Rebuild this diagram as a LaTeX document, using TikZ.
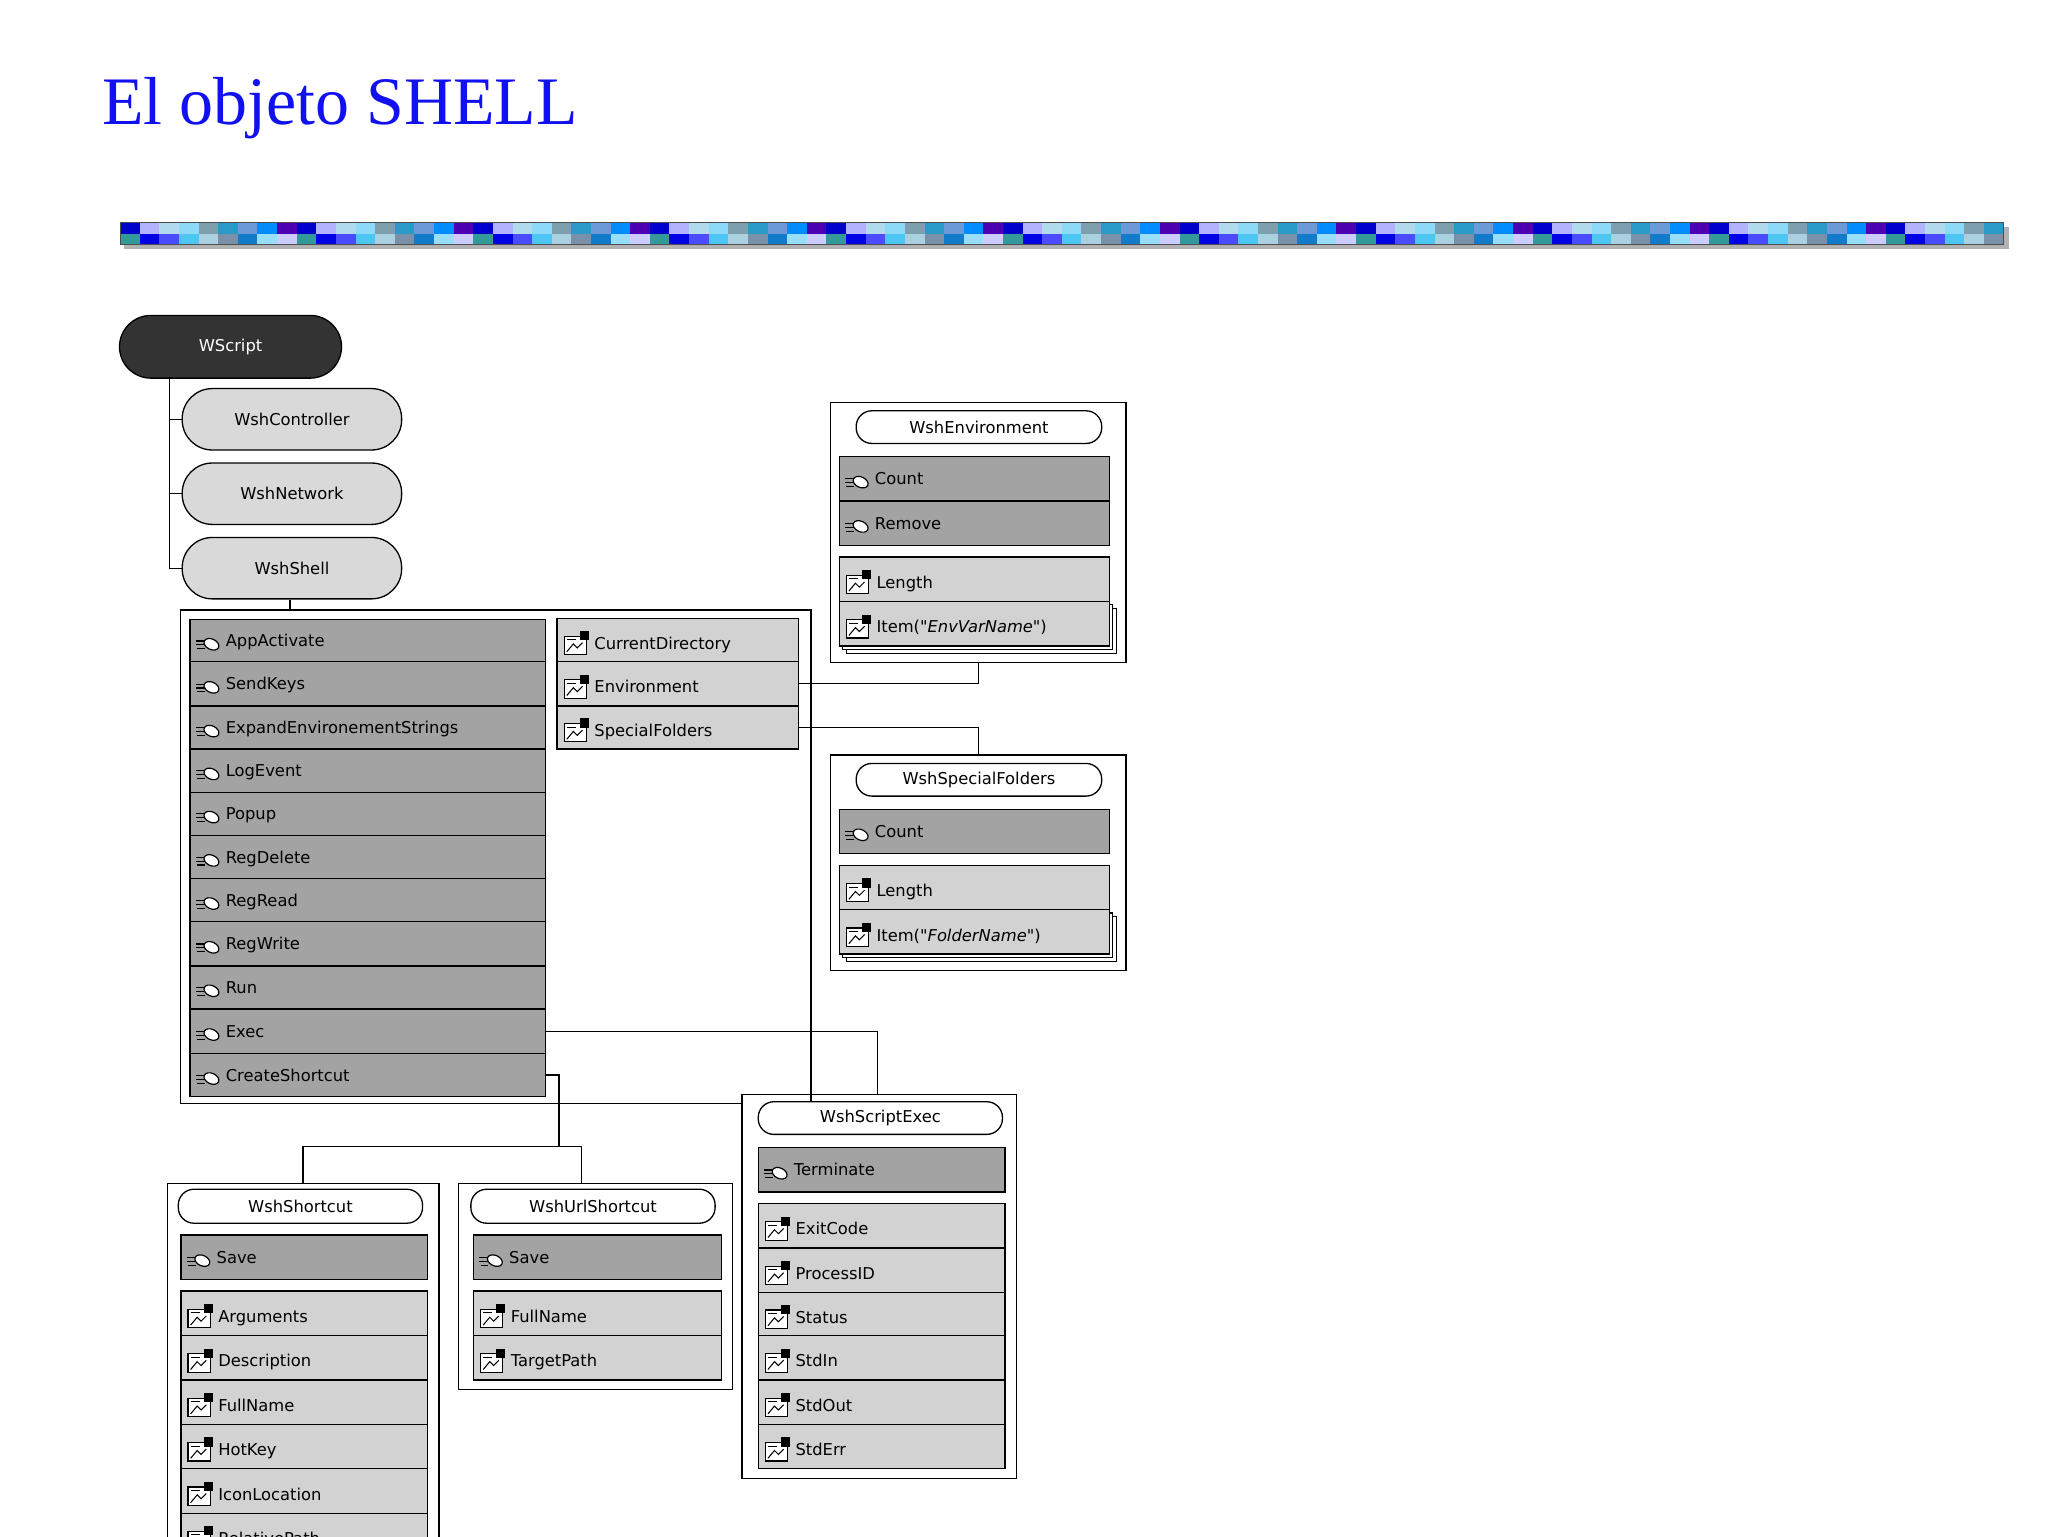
\documentclass[tikz,border=0pt]{standalone}
\usepackage{fontspec}
\setmainfont{Liberation Serif}
\newfontfamily\uisf{DejaVu Sans}
\begin{document}
\begin{tikzpicture}[x=1pt,y=-1pt,
  every node/.style={font=\uisf\fontsize{12.5}{14}\selectfont},
  rowbase/.style={draw=black,line width=1pt,anchor=north west,inner sep=0pt,text depth=0pt,align=left},
  methrow/.style={rowbase,fill=methgray},
  proprow/.style={rowbase,fill=propgray},
  pill/.style={draw=black,line width=1pt,rounded corners=12pt,inner sep=0pt,anchor=north west},
  obox/.style={draw=black,line width=1pt,fill=white},
  wire/.style={draw=black,line width=1pt}]
\definecolor{methgray}{HTML}{A3A3A3}
\definecolor{propgray}{HTML}{D2D2D2}
\definecolor{pillgray}{HTML}{D9D9D9}
\definecolor{titleblue}{HTML}{1010F0}
\definecolor{slategr}{HTML}{7A8FA8}
\newcommand{\micon}{\tikz[x=1pt,y=1pt,baseline=-3pt]{\draw[line width=0.8pt](0,1.5)--(7,1.5)(0,-1.5)--(7,-1.5)(1,-4.5)--(7,-4.5);\draw[line width=0.9pt,fill=white,rotate around={-25:(12,-1)}](12,-1) ellipse (6 and 4);}}
\newcommand{\picon}{\tikz[x=1pt,y=1pt,baseline=-4pt]{\draw[line width=0.9pt,fill=white](0,-8) rectangle (17,6);\draw[line width=0.8pt](2,-6)--(7,0)--(10,-3)--(14,1);\fill(12,3) rectangle (19,10);\draw(2,3.5)--(9,3.5);}}
\newcommand{\mrow}[6]{\node[methrow,minimum width=#3,minimum height=#4,text width=#3-6pt] (#5) at (#1,#2) {\hspace*{1pt}\micon\ #6};}
\newcommand{\prow}[6]{\node[proprow,minimum width=#3,minimum height=#4,text width=#3-6pt] (#5) at (#1,#2) {\hspace*{2pt}\picon\ #6};}
\newcommand{\stacked}[4]{\draw[line width=0.8pt](#1+#3,#2+3)--(#1+#3+3,#2+3)--(#1+#3+3,#2+#4+3)--(#1+3,#2+#4+3)--(#1+3,#2+#4);
\draw[line width=0.8pt](#1+#3+3,#2+6)--(#1+#3+6,#2+6)--(#1+#3+6,#2+#4+6)--(#1+6,#2+#4+6)--(#1+6,#2+#4+3);}
\useasboundingbox (0,0) rectangle (1568,1176);
\fill[white] (0,0) rectangle (1568,1176);
% title
\node[anchor=west,inner sep=0pt,text=titleblue,font=\fontsize{52}{56}\selectfont] (title) at (78,83) {El objeto SHELL};
% banner
\fill[black!30] (95,174) rectangle (1538,191);
\foreach \i in {0,...,95}{
  \pgfmathsetmacro{\xa}{92+\i*15.02}
  \pgfmathtruncatemacro{\ca}{mod(\i*7+3,9)}
  \pgfmathtruncatemacro{\cb}{mod(\i*5+1,9)}
  \ifcase\ca \def\cola{cyan!50!blue!60}\or\def\cola{blue!30!white}\or\def\cola{cyan!60!teal}\or\def\cola{blue!80!black}\or\def\cola{cyan!30!gray}\or\def\cola{violet!60!blue}\or\def\cola{cyan!45}\or\def\cola{blue!45!cyan}\else\def\cola{gray!35!cyan!40}\fi
  \ifcase\cb \def\colb{cyan!40}\or\def\colb{teal!80}\or\def\colb{blue!70}\or\def\colb{gray!50!cyan!50}\or\def\colb{cyan!60!blue}\or\def\colb{blue!20}\or\def\colb{blue!90!black}\or\def\colb{cyan!70}\else\def\colb{slategr}\fi
  \fill[\cola] (\xa,170) rectangle (\xa+15.1,179);
  \fill[\colb] (\xa,179) rectangle (\xa+15.1,187);
}
\draw[line width=0.8pt,black!70] (92,170) rectangle (1534,187);
% WScript tree
\node[pill,fill=black!80,text=white,minimum width=170,minimum height=48,rounded corners=24pt] (wscript) at (91,241) {WScript};
\node[pill,fill=pillgray,minimum width=168,minimum height=47,rounded corners=23pt] (ctrl) at (139,297) {WshController};
\node[pill,fill=pillgray,minimum width=168,minimum height=47,rounded corners=23pt] (net) at (139,354) {WshNetwork};
\node[pill,fill=pillgray,minimum width=168,minimum height=47,rounded corners=23pt] (shell) at (139,411) {WshShell};
\coordinate (t0) at (130,289);
\draw[wire] (t0) |- (ctrl.west);
\draw[wire] (t0) |- (net.west);
\draw[wire] (t0) |- (shell.west);
% WshShell box
\draw[obox] (138,467) rectangle (621,845);
\coordinate (shtop) at (222,467);
\draw[wire] (shell.south -| shtop) -- (shtop);
\mrow{145}{474}{272}{32}{m1}{AppActivate}
\mrow{145}{506}{272}{34}{m2}{SendKeys}
\mrow{145}{540}{272}{33}{m3}{ExpandEnvironementStrings}
\mrow{145}{573}{272}{33}{m4}{LogEvent}
\mrow{145}{606}{272}{33}{m5}{Popup}
\mrow{145}{639}{272}{33}{m6}{RegDelete}
\mrow{145}{672}{272}{33}{m7}{RegRead}
\mrow{145}{705}{272}{34}{m8}{RegWrite}
\mrow{145}{739}{272}{33}{m9}{Run}
\mrow{145}{772}{272}{34}{m10}{Exec}
\mrow{145}{806}{272}{33}{m11}{CreateShortcut}
\prow{426}{473}{185}{33}{p1}{CurrentDirectory}
\prow{426}{506}{185}{34}{p2}{Environment}
\prow{426}{540}{185}{33}{p3}{SpecialFolders}
% WshEnvironment
\draw[obox] (636,308) rectangle (862,507);
\node[pill,fill=white,minimum width=188,minimum height=25] (envh) at (655,314) {WshEnvironment};
\mrow{642}{349}{207}{34}{e1}{Count}
\mrow{642}{383}{207}{34}{e2}{Remove}
\stacked{642}{460}{207}{34}
\prow{642}{426}{207}{34}{e3}{Length}
\prow{642}{460}{207}{34}{e4}{Item("\textit{EnvVarName}")}
% WshSpecialFolders
\draw[obox] (636,578) rectangle (862,743);
\node[pill,fill=white,minimum width=188,minimum height=25] (sfh) at (655,584) {WshSpecialFolders};
\mrow{642}{619}{207}{34}{s1}{Count}
\stacked{642}{696}{207}{34}
\prow{642}{662}{207}{34}{s2}{Length}
\prow{642}{696}{207}{34}{s3}{Item(\textit{"FolderName"})}
% connectors environment / special folders
\coordinate (envb) at (749,507);
\coordinate (sft) at (749,578);
\draw[wire] (p2.east) -| (envb);
\draw[wire] (p3.east) -| (sft);
% WshScriptExec
\draw[obox] (568,838) rectangle (778,1132);
\draw[wire] (621,845) -- (621,838);
\draw[wire] (138,845) -- (568,845);
\node[pill,fill=white,minimum width=187,minimum height=25] (exh) at (580,843) {WshScriptExec};
\mrow{580}{878}{189}{34}{x1}{Terminate}
\prow{580}{921}{189}{34}{x2}{ExitCode}
\prow{580}{955}{189}{34}{x3}{ProcessID}
\prow{580}{989}{189}{33}{x4}{Status}
\prow{580}{1022}{189}{34}{x5}{StdIn}
\prow{580}{1056}{189}{34}{x6}{StdOut}
\prow{580}{1090}{189}{34}{x7}{StdErr}
\coordinate (exect) at (672,838);
\draw[wire] (m10.east) -| (exect);
% shortcut boxes
\draw[obox] (128,906) rectangle (336,1190);
\draw[obox] (351,906) rectangle (561,1064);
\coordinate (cs1) at (428,878);
\coordinate (sc) at (232,906);
\coordinate (usc) at (445,906);
\draw[wire] (m11.east) -| (cs1);
\draw[wire] (sc) |- (cs1) -| (usc);
\node[pill,fill=white,minimum width=187,minimum height=26] (sch) at (136,910) {WshShortcut};
\mrow{138}{945}{189}{34}{c1}{Save}
\prow{138}{988}{189}{34}{c2}{Arguments}
\prow{138}{1022}{189}{34}{c3}{Description}
\prow{138}{1056}{189}{34}{c4}{FullName}
\prow{138}{1090}{189}{34}{c5}{HotKey}
\prow{138}{1124}{189}{34}{c6}{IconLocation}
\prow{138}{1158}{189}{34}{c7}{RelativePath}
\node[pill,fill=white,minimum width=187,minimum height=26] (usch) at (360,910) {WshUrlShortcut};
\mrow{362}{945}{190}{34}{u1}{Save}
\prow{362}{988}{190}{34}{u2}{FullName}
\prow{362}{1022}{190}{34}{u3}{TargetPath}
\end{tikzpicture}
\end{document}
